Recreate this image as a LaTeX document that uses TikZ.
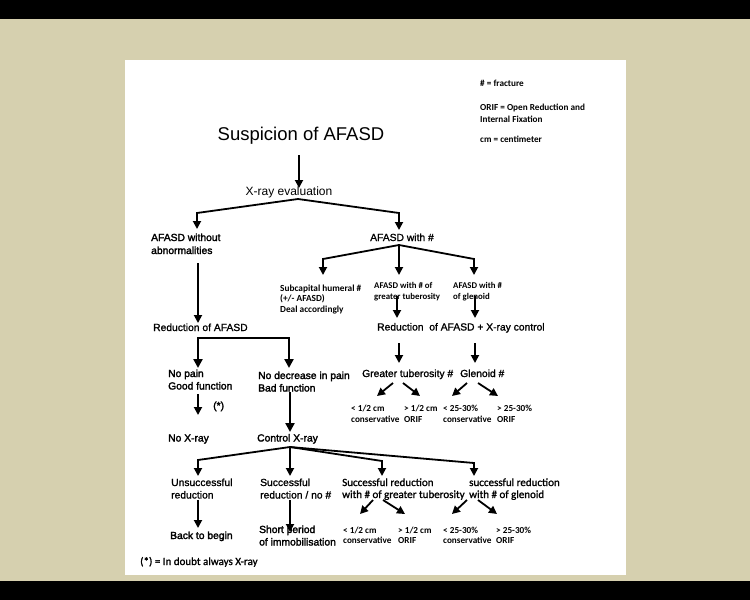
\documentclass[tikz,border=0pt]{standalone}
\usepackage{fontspec}
\setmainfont{Liberation Sans}
\newfontfamily\arialfb{Liberation Sans}[FakeBold=1.2]
\newfontfamily\arialfbb{Liberation Sans}[FakeBold=2.2]
\newfontfamily\calib{Carlito}
\newfontfamily\calibfb{Carlito}[FakeBold=1.2]
\usetikzlibrary{arrows.meta}
\definecolor{beige}{HTML}{D6D0AF}
\begin{document}
\begin{tikzpicture}[x=1pt,y=-1pt,
  arr/.style={line width=1.8pt,-{Triangle[length=8pt,width=8pt]}},
  thk/.style={line width=2.7pt,-{Triangle[length=9pt,width=9pt]}},
  thkboth/.style={line width=2.7pt,{Triangle[length=9pt,width=9pt]}-{Triangle[length=9pt,width=9pt]}},
  lab/.style={inner sep=0pt, anchor=base west, align=left, font=\arialfb\fontsize{10.3}{12.5}\selectfont},
  labb/.style={lab, font=\arialfbb\fontsize{10.3}{12.5}\selectfont},
  sm/.style={inner sep=0pt, anchor=base west, align=left, font=\calib\bfseries\fontsize{9.2}{11}\selectfont},
  md/.style={inner sep=0pt, anchor=base west, align=left, font=\calibfb\fontsize{11}{12}\selectfont}]
\fill[black] (0,0) rectangle (750,600);
\fill[beige] (0,19) rectangle (750,581);
\fill[white] (125,60) rectangle (626,575);
\useasboundingbox (0,0) rectangle (750,600);

% legend (base = last line)
\node[sm] (leg1) at (480,86) {\# = fracture};
\node[sm, font=\calib\bfseries\fontsize{9.2}{12}\selectfont] (leg2) at (480,122) {ORIF = Open Reduction and\\Internal Fixation};
\node[sm] (leg3) at (480,142) {cm = centimeter};

% top
\node[inner sep=0pt, anchor=base, font=\fontsize{18.5}{22}\selectfont] (title) at (301,140) {Suspicion of AFASD};
\node[inner sep=0pt, anchor=base, font=\fontsize{12}{14}\selectfont] (xray) at (289,195) {X-ray evaluation};

% level 2
\node[labb, font=\arialfbb\fontsize{10.3}{13}\selectfont] (without) at (151,254) {AFASD without\\abnormalities};
\node[lab, anchor=base] (with) at (402,241) {AFASD with \#};

% level 3
\node[sm, font=\calib\bfseries\fontsize{9.3}{10.5}\selectfont] (subcap) at (280,312) {Subcapital humeral \#\\(+/- AFASD)\\Deal accordingly};
\node[sm, font=\calib\bfseries\fontsize{8.8}{11.5}\selectfont] (gtub) at (374,299.5) {AFASD with \# of\\greater tuberosity};
\node[sm, font=\calib\bfseries\fontsize{8.8}{11.5}\selectfont] (glen) at (453,299.5) {AFASD with \#\\of glenoid};

\node[lab] (red) at (153,331) {Reduction of AFASD};
\node[lab] (redx) at (377,330.5) {Reduction\ \ of AFASD + X-ray control};

\node[labb] (nopain) at (168,389.5) {No pain\\Good function};
\node[labb] (nodec) at (258,391.5) {No decrease in pain\\Bad function};
\node[labb] (star) at (213,409) {(*)};
\node[labb] (noxray) at (168,441.5) {No X-ray};
\node[labb] (ctrl) at (257,441.5) {Control X-ray};

\node[lab] (gt) at (362,377) {Greater tuberosity \#};
\node[lab] (gl) at (460,377) {Glenoid \#};
\node[sm] (a1) at (351,422) {< 1/2 cm\\conservative};
\node[sm] (a2) at (404,422) {> 1/2 cm\\ORIF};
\node[sm] (a3) at (443,422) {< 25-30\%\\conservative};
\node[sm] (a4) at (497,422) {> 25-30\%\\ORIF};

% bottom
\node[lab] (unsucc) at (171,498.5) {Unsuccessful\\reduction};
\node[lab] (succ) at (260,498.5) {Successful\\reduction / no \#};
\node[md] (sgt) at (342,498) {Successful reduction\\with \# of greater tuberosity};
\node[md] (sgl) at (469,498) {successful reduction\\with \# of glenoid};
\node[labb] (back) at (170,539) {Back to begin};
\node[labb] (short) at (259,545.5) {Short period\\of immobilisation};
\node[sm, font=\calib\bfseries\fontsize{9.2}{10.5}\selectfont] (b1) at (343,543.5) {< 1/2 cm\\conservative};
\node[sm, font=\calib\bfseries\fontsize{9.2}{10.5}\selectfont] (b2) at (398,543.5) {> 1/2 cm\\ORIF};
\node[sm, font=\calib\bfseries\fontsize{9.2}{10.5}\selectfont] (b3) at (443,543.5) {< 25-30\%\\conservative};
\node[sm, font=\calib\bfseries\fontsize{9.2}{10.5}\selectfont] (b4) at (496,543.5) {> 25-30\%\\ORIF};
\node[md] (foot) at (140,565) {(*) = In doubt always X-ray};

% connector points
\coordinate (t0) at (299,155); \coordinate (t1) at (299,188);
\coordinate (x0) at (298,199); \coordinate (x1) at (197,213); \coordinate (x1t) at (197,229);
\coordinate (x2) at (399,213); \coordinate (x2t) at (399,230);
\coordinate (w0) at (198,263); \coordinate (w1) at (198,323);
\coordinate (f0) at (399,245); \coordinate (f1) at (323,259); \coordinate (f1t) at (323,275);
\coordinate (f2t) at (399,275); \coordinate (f3) at (474,259); \coordinate (f3t) at (474,275);
\coordinate (g0) at (397,296); \coordinate (g0t) at (397,318);
\coordinate (h0) at (475,296); \coordinate (h0t) at (475,318);
\coordinate (k1t) at (198,368); \coordinate (k1) at (198,338);
\coordinate (k2) at (289,338); \coordinate (k2t) at (289,368);
\coordinate (s0) at (198,394); \coordinate (s0t) at (198,415);
\coordinate (c0) at (290,392); \coordinate (c0t) at (290,432);
\coordinate (r1) at (399,343); \coordinate (r1t) at (399,363);
\coordinate (r2) at (475,343); \coordinate (r2t) at (475,363);
\coordinate (d1) at (393,383); \coordinate (d1t) at (377,396);
\coordinate (d2) at (403,383); \coordinate (d2t) at (420,396);
\coordinate (d3) at (467,383); \coordinate (d3t) at (452,396);
\coordinate (d4) at (478,383); \coordinate (d4t) at (498,396);
\coordinate (q0) at (290,447); \coordinate (q1) at (198,460); \coordinate (q1t) at (198,476);
\coordinate (q2t) at (290,476); \coordinate (q3) at (382,461); \coordinate (q3t) at (382,476);
\coordinate (q4) at (474,463); \coordinate (q4t) at (474,476);
\coordinate (u0) at (198,500); \coordinate (u0t) at (198,528);
\coordinate (v0) at (290,500); \coordinate (v0t) at (290,532);
\coordinate (e1) at (373,500); \coordinate (e1t) at (360,514);
\coordinate (e2) at (383,500); \coordinate (e2t) at (405,514);
\coordinate (e3) at (467,500); \coordinate (e3t) at (452,514);
\coordinate (e4) at (478,500); \coordinate (e4t) at (497,514);

% connectors
\draw[arr] (t0) -- (t1);
\draw[arr] (x0) -- (x1) -- (x1t);
\draw[arr] (x0) -- (x2) -- (x2t);
\draw[arr] (w0) -- (w1);
\draw[arr] (f0) -- (f1) -- (f1t);
\draw[arr] (f0) -- (f2t);
\draw[arr] (f0) -- (f3) -- (f3t);
\draw[arr] (g0) -- (g0t);
\draw[arr] (h0) -- (h0t);
\draw[thkboth] (k1t) -- (k1) -- (k2) -- (k2t);
\draw[arr] (s0) -- (s0t);
\draw[thk] (c0) -- (c0t);
\draw[arr] (r1) -- (r1t);
\draw[arr] (r2) -- (r2t);
\draw[arr] (d1) -- (d1t);
\draw[arr] (d2) -- (d2t);
\draw[arr] (d3) -- (d3t);
\draw[arr] (d4) -- (d4t);
\draw[arr] (q0) -- (q1) -- (q1t);
\draw[arr] (q0) -- (q2t);
\draw[arr] (q0) -- (q3) -- (q3t);
\draw[arr] (q0) -- (q4) -- (q4t);
\draw[arr] (u0) -- (u0t);
\draw[arr] (v0) -- (v0t);
\draw[arr] (e1) -- (e1t);
\draw[arr] (e2) -- (e2t);
\draw[arr] (e3) -- (e3t);
\draw[arr] (e4) -- (e4t);
\end{tikzpicture}
\end{document}
